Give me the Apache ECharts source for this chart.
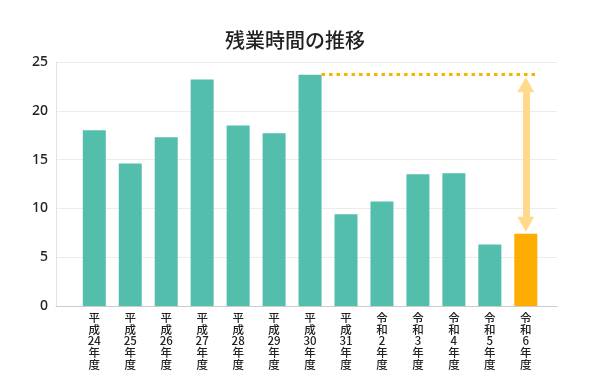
<!DOCTYPE html>
<html>
<head>
<meta charset="utf-8">
<script src="https://cdn.jsdelivr.net/npm/echarts@6/dist/echarts.min.js"></script>
<style>
html,body{margin:0;padding:0;background:#fff;}
#chart{width:590px;height:392px;}
</style>
</head>
<body>
<div id="chart"></div>
<script>
// ---- data ----
const eras = ['平成','平成','平成','平成','平成','平成','平成','平成','令和','令和','令和','令和','令和'];
const years = ['24','25','26','27','28','29','30','31','2','3','4','5','6'];
const hours = [18.0, 14.6, 17.3, 23.2, 18.5, 17.7, 23.7, 9.4, 10.7, 13.5, 13.6, 6.3, 7.4];
const yTicks = [0, 5, 10, 15, 20, 25];
const titleText = '残業時間の推移';

// ---- layout / style ----
const W = 590, H = 392;
const gridTop = 62, gridBottom = 86, gridLeft = 56, gridRight = 33;
const plotH = H - gridTop - gridBottom;
const yMax = 25;
const unitPerPx = yMax / plotH;
const teal = '#52BEAB', orange = '#FFAD00', arrowColor = '#FFD98C';
const barW = 23;
const catStepPx = 35.96;
const halfBar = (barW / 2) / catStepPx;
const headH = 15, headW = 17;

const labels = eras.map((e, i) => e.split('').join('\n') + '\n' + years[i] + '\n年\n度');
const lastIdx = hours.length - 1;
const maxVal = Math.max(...hours);
const maxIdx = hours.indexOf(maxVal);

const barData = hours.map((v, i) => ({
  value: [i, v],
  itemStyle: { color: i === lastIdx ? orange : teal }
}));

const chart = echarts.init(document.getElementById('chart'), null, { renderer: 'canvas' });
chart.setOption({
  animation: false,
  backgroundColor: '#fff',
  title: {
    text: titleText,
    left: 'center',
    top: 25,
    textStyle: { fontFamily: 'Noto Sans CJK JP', fontSize: 20, fontWeight: 500, color: '#222' }
  },
  grid: { left: gridLeft, right: gridRight, top: gridTop, bottom: gridBottom, containLabel: false },
  xAxis: {
    type: 'value',
    min: -((94.3 - gridLeft) / catStepPx),
    max: lastIdx + (W - gridRight - 525.8) / catStepPx,
    splitLine: { show: false },
    axisTick: { show: false },
    axisLine: { show: true, onZero: false, lineStyle: { color: '#cccccc', width: 1 } },
    axisLabel: {
      customValues: hours.map((v, i) => i),
      formatter: v => labels[Math.round(v)],
      fontFamily: 'Noto Sans CJK JP',
      fontSize: 11.5,
      fontWeight: 500,
      lineHeight: 11.6,
      color: '#222',
      margin: 6,
      hideOverlap: false
    }
  },
  yAxis: {
    type: 'value',
    min: 0,
    max: yMax,
    interval: 5,
    axisLine: { show: true, onZero: false, lineStyle: { color: '#e2e2e2', width: 1 } },
    axisTick: { show: false },
    splitLine: { show: true, lineStyle: { color: '#ececec', width: 1 } },
    axisLabel: {
      fontFamily: 'Noto Sans',
      fontSize: 14,
      fontWeight: 500,
      color: '#222',
      margin: 8,
      formatter: v => yTicks.includes(v) ? String(v) : ''
    }
  },
  series: [{
    type: 'bar',
    data: barData,
    barWidth: barW,
    markLine: {
      silent: true,
      symbol: ['none', 'none'],
      label: { show: false },
      data: [
        [
          { coord: [maxIdx + halfBar, maxVal], lineStyle: { color: '#F5B400', width: 3, type: [3.5, 4] }, symbol: 'none' },
          { coord: [lastIdx + halfBar, maxVal], symbol: 'none' }
        ],
        [
          { coord: [lastIdx, maxVal - (2.6 + headH / 2) * unitPerPx], lineStyle: { color: arrowColor, width: 7, type: 'solid' }, symbol: 'triangle', symbolSize: [headW, headH] },
          { coord: [lastIdx, hours[lastIdx] + (2 + headH / 2) * unitPerPx], symbol: 'triangle', symbolSize: [headW, headH] }
        ]
      ]
    }
  }]
});
</script>
</body>
</html>
